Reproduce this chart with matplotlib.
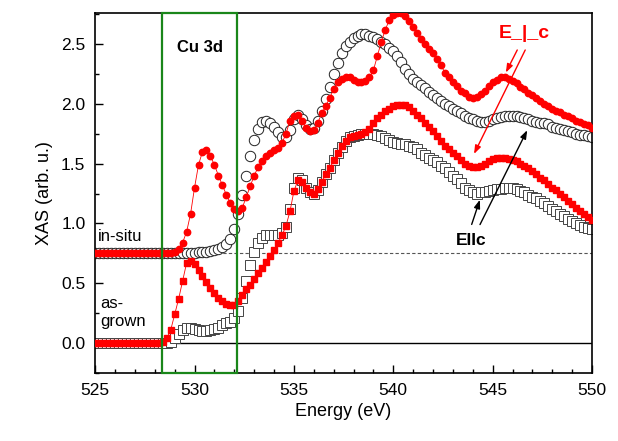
import numpy as np
import matplotlib

matplotlib.use("Agg")
import matplotlib.pyplot as plt
from matplotlib.patches import Rectangle
from matplotlib.ticker import MultipleLocator, FormatStrFormatter

plt.rcParams["font.family"] = ["Liberation Sans", "DejaVu Sans"]

# photon energy grid (eV), 0.2 eV steps from 525 to 550
energy = np.arange(126) * 0.2 + 525.0

# in-situ, E perpendicular c (red filled circles), offset 0.75
insitu_perp = [
    0.75, 0.75, 0.75, 0.75, 0.75, 0.75, 0.75, 0.75, 0.75, 0.75,   # 525.0 - 526.8
    0.75, 0.75, 0.75, 0.75, 0.75, 0.75, 0.75, 0.75, 0.75, 0.755,  # 527.0 - 528.8
    0.76, 0.79, 0.84, 0.93, 1.08, 1.30, 1.49, 1.60, 1.61, 1.56,   # 529.0 - 530.8
    1.49, 1.40, 1.32, 1.24, 1.17, 1.12, 1.10, 1.13, 1.22, 1.31,   # 531.0 - 532.8
    1.40, 1.47, 1.52, 1.56, 1.59, 1.61, 1.63, 1.67, 1.75, 1.86,   # 533.0 - 534.8
    1.90, 1.91, 1.86, 1.80, 1.77, 1.78, 1.84, 1.92, 1.98, 2.05,   # 535.0 - 536.8
    2.12, 2.18, 2.21, 2.22, 2.22, 2.20, 2.18, 2.18, 2.19, 2.22,   # 537.0 - 538.8
    2.28, 2.40, 2.52, 2.62, 2.70, 2.74, 2.76, 2.76, 2.73, 2.69,   # 539.0 - 540.8
    2.64, 2.59, 2.54, 2.50, 2.46, 2.42, 2.37, 2.32, 2.26, 2.22,   # 541.0 - 542.8
    2.18, 2.15, 2.11, 2.09, 2.06, 2.05, 2.06, 2.08, 2.11, 2.15,   # 543.0 - 544.8
    2.18, 2.20, 2.22, 2.22, 2.21, 2.19, 2.17, 2.14, 2.12, 2.09,   # 545.0 - 546.8
    2.07, 2.05, 2.02, 2.00, 1.98, 1.96, 1.94, 1.93, 1.91, 1.90,   # 547.0 - 548.8
    1.88, 1.86, 1.85, 1.83, 1.82, 1.80,                           # 549.0 - 550.0
]

# in-situ, E parallel c (open circles), offset 0.75
insitu_par = [
    0.75, 0.75, 0.75, 0.75, 0.75, 0.75, 0.75, 0.75, 0.75, 0.75,
    0.75, 0.75, 0.75, 0.75, 0.75, 0.75, 0.75, 0.75, 0.75, 0.75,
    0.75, 0.75, 0.75, 0.75, 0.752, 0.755, 0.758, 0.76, 0.765, 0.77,
    0.78, 0.79, 0.80, 0.83, 0.87, 0.95, 1.08, 1.24, 1.40, 1.56,
    1.70, 1.79, 1.85, 1.86, 1.84, 1.81, 1.76, 1.72, 1.72, 1.78,
    1.87, 1.91, 1.87, 1.82, 1.79, 1.80, 1.86, 1.94, 2.04, 2.14,
    2.25, 2.34, 2.42, 2.48, 2.52, 2.55, 2.57, 2.58, 2.58, 2.57,
    2.56, 2.54, 2.52, 2.50, 2.47, 2.44, 2.40, 2.35, 2.29, 2.25,
    2.21, 2.18, 2.16, 2.13, 2.10, 2.07, 2.05, 2.02, 2.00, 1.98,
    1.96, 1.94, 1.92, 1.90, 1.88, 1.87, 1.86, 1.85, 1.85, 1.86,
    1.87, 1.88, 1.89, 1.90, 1.90, 1.90, 1.90, 1.89, 1.88, 1.87,
    1.86, 1.85, 1.84, 1.84, 1.83, 1.81, 1.80, 1.79, 1.78, 1.77,
    1.76, 1.75, 1.74, 1.74, 1.73, 1.72,
]

# as-grown, E perpendicular c (red filled squares)
asgrown_perp = [
    0.0, 0.0, 0.0, 0.0, 0.0, 0.0, 0.0, 0.0, 0.0, 0.0,
    0.0, 0.0, 0.0, 0.0, 0.0, 0.0, 0.0, 0.01, 0.04, 0.11,
    0.24, 0.37, 0.52, 0.67, 0.69, 0.66, 0.61, 0.56, 0.51, 0.46,
    0.42, 0.38, 0.35, 0.33, 0.32, 0.32, 0.35, 0.40, 0.45, 0.49,
    0.54, 0.59, 0.63, 0.68, 0.73, 0.78, 0.84, 0.90, 0.98, 1.10,
    1.27, 1.36, 1.35, 1.30, 1.26, 1.25, 1.29, 1.35, 1.41, 1.46,
    1.53, 1.59, 1.65, 1.69, 1.72, 1.73, 1.74, 1.75, 1.76, 1.79,
    1.84, 1.88, 1.91, 1.94, 1.96, 1.98, 1.99, 1.99, 1.99, 1.97,
    1.94, 1.91, 1.88, 1.84, 1.81, 1.77, 1.73, 1.69, 1.65, 1.62,
    1.59, 1.56, 1.53, 1.50, 1.48, 1.47, 1.47, 1.48, 1.50, 1.52,
    1.54, 1.55, 1.55, 1.55, 1.54, 1.53, 1.52, 1.50, 1.48, 1.46,
    1.44, 1.41, 1.38, 1.36, 1.33, 1.30, 1.28, 1.25, 1.22, 1.19,
    1.16, 1.13, 1.10, 1.08, 1.05, 1.03,
]

# as-grown, E parallel c (open squares)
asgrown_par = [
    0.0, 0.0, 0.0, 0.0, 0.0, 0.0, 0.0, 0.0, 0.0, 0.0,
    0.0, 0.0, 0.0, 0.0, 0.0, 0.0, 0.0, 0.0, 0.0, 0.01,
    0.04, 0.08, 0.11, 0.13, 0.13, 0.12, 0.11, 0.10, 0.10, 0.11,
    0.12, 0.13, 0.15, 0.17, 0.18, 0.21, 0.27, 0.38, 0.52, 0.65,
    0.76, 0.84, 0.88, 0.90, 0.90, 0.90, 0.90, 0.92, 0.97, 1.12,
    1.30, 1.38, 1.36, 1.30, 1.26, 1.25, 1.28, 1.35, 1.41, 1.46,
    1.53, 1.59, 1.64, 1.69, 1.72, 1.73, 1.74, 1.75, 1.75, 1.75,
    1.75, 1.74, 1.73, 1.71, 1.70, 1.68, 1.67, 1.66, 1.66, 1.65,
    1.64, 1.62, 1.59, 1.57, 1.55, 1.53, 1.51, 1.48, 1.46, 1.43,
    1.40, 1.37, 1.34, 1.30, 1.28, 1.26, 1.25, 1.26, 1.26, 1.27,
    1.28, 1.29, 1.29, 1.30, 1.30, 1.30, 1.29, 1.27, 1.26, 1.24,
    1.22, 1.21, 1.19, 1.17, 1.15, 1.12, 1.10, 1.08, 1.06, 1.04,
    1.02, 1.00, 0.99, 0.97, 0.96, 0.95,
]

cu3d_window = (528.35, 532.15)
insitu_baseline = 0.75

fig = plt.figure(figsize=(6.18, 4.41), dpi=100)
ax = fig.add_axes([0.154, 0.154, 0.804, 0.817])

ax.axhline(0.0, color="black", lw=1.0, zorder=1)
ax.axhline(insitu_baseline, color="#555555", lw=0.8, ls=(0, (3, 2)), zorder=1)

ax.plot(energy, asgrown_par, ls="none", marker="s", ms=6.5, mfc="white",
        mec="#444444", mew=0.7, zorder=2)
ax.plot(energy, insitu_par, ls="none", marker="o", ms=7.5, mfc="white",
        mec="#222222", mew=0.7, zorder=2)
ax.plot(energy, asgrown_perp, color="red", lw=0.6, marker="s", ms=4.3,
        mfc="red", mec="red", zorder=3)
ax.plot(energy, insitu_perp, color="red", lw=0.6, marker="o", ms=4.6,
        mfc="red", mec="red", zorder=3)

box = Rectangle((cu3d_window[0], 0), cu3d_window[1] - cu3d_window[0], 1,
                transform=ax.get_xaxis_transform(), fill=False,
                edgecolor="#1a861a", lw=1.6, zorder=4, clip_on=False)
ax.add_patch(box)

ax.text(530.25, 2.47, "Cu 3d", fontsize=12, fontweight="bold", ha="center", va="center")
ax.text(525.15, 0.89, "in-situ", fontsize=12, ha="left", va="center")
ax.text(525.25, 0.26, "as-\ngrown", fontsize=12, ha="left", va="center", linespacing=1.25)
ax.text(546.6, 2.59, "E_|_c", fontsize=14, fontweight="bold", color="red",
        ha="center", va="center")
ax.text(543.9, 0.86, "EIIc", fontsize=12.5, fontweight="bold", color="black",
        ha="center", va="center")

red_arrow = dict(arrowstyle="-|>,head_length=0.5,head_width=0.18", color="red", lw=1.0)
ax.annotate("", xy=(545.6, 2.24), xytext=(546.3, 2.47), arrowprops=red_arrow)
ax.annotate("", xy=(544.0, 1.56), xytext=(546.7, 2.47), arrowprops=red_arrow)
black_arrow = dict(arrowstyle="-|>,head_length=0.5,head_width=0.18", color="black", lw=1.0)
ax.annotate("", xy=(544.4, 1.22), xytext=(543.9, 0.97), arrowprops=black_arrow)
ax.annotate("", xy=(546.8, 1.80), xytext=(544.3, 0.97), arrowprops=black_arrow)

ax.set_xlim(525, 550)
ax.set_ylim(-0.25, 2.76)
ax.xaxis.set_major_locator(MultipleLocator(5))
ax.xaxis.set_minor_locator(MultipleLocator(1))
ax.yaxis.set_major_locator(MultipleLocator(0.5))
ax.yaxis.set_minor_locator(MultipleLocator(0.25))
ax.yaxis.set_major_formatter(FormatStrFormatter("%.1f"))
ax.tick_params(which="both", direction="in", top=False, right=False,
               labelsize=12.5, width=1.0, pad=7)
ax.tick_params(which="major", length=6)
ax.tick_params(which="minor", length=3)
for s in ax.spines.values():
    s.set_linewidth(1.2)

ax.set_xlabel("Energy (eV)", fontsize=13, labelpad=4)
ax.set_ylabel("XAS (arb. u.)", fontsize=13, labelpad=6)

fig.savefig("out.png", dpi=100)
